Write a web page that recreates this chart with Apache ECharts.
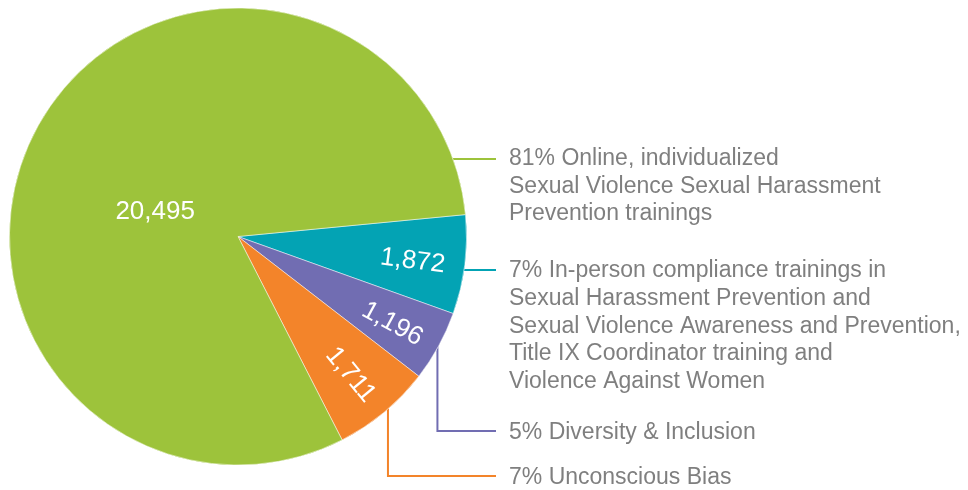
<!DOCTYPE html>
<html>
<head>
<meta charset="utf-8">
<title>Training participation</title>
<script src="https://cdn.jsdelivr.net/npm/echarts@6/dist/echarts.min.js"></script>
<style>
  html, body { margin: 0; padding: 0; background: #fff; }
  #chart { width: 968px; height: 490px; }
</style>
</head>
<body>
<div id="chart"></div>
<script>
// slices run clockwise from the green/teal boundary
const categories = [
  'In-person compliance trainings in\nSexual Harassment Prevention and\nSexual Violence Awareness and Prevention,\nTitle IX Coordinator training and\nViolence Against Women',
  'Diversity & Inclusion',
  'Unconscious Bias',
  'Online, individualized\nSexual Violence Sexual Harassment\nPrevention trainings'
]
const percents = [7, 5, 7, 81]
const participants = [1872, 1196, 1711, 20495]
const colors = ['#03a3b4', '#716db2', '#f3842a', '#9dc33b']

const cx = 238
const cy = 236.5
const radius = 228.5
const startAngle = 5.5

// right-hand labels: y of leader line, y of first text line centre
const lineY = [270, 431, 476, 159]
const textY = [271, 433, 478, 158.5]
const lineEndX = 496
const textX = 509
const lineH = 27.7

const chart = echarts.init(document.getElementById('chart'))

function sliceData(extra) {
  return percents.map((v, i) => Object.assign({
    value: v,
    name: categories[i],
    itemStyle: { color: colors[i] }
  }, extra ? extra(i) : {}))
}

// middle angle of slice i, degrees, counter-clockwise from 3 o'clock
function midAngle(i) {
  const total = percents.reduce((a, b) => a + b, 0)
  let before = 0
  for (let j = 0; j < i; j++) before += percents[j]
  return startAngle - 360 * (before + percents[i] / 2) / total
}

chart.setOption({
  animation: false,
  backgroundColor: '#fff',
  series: [
    {
      // outside descriptions with leader lines
      type: 'pie',
      silent: true,
      z: 2,
      center: [cx, cy],
      radius: radius,
      startAngle: startAngle,
      clockwise: true,
      avoidLabelOverlap: false,
      itemStyle: { borderColor: '#fff', borderWidth: 0.5 },
      label: {
        show: true,
        position: 'outside',
        overflow: 'none',
        color: '#7f7f7f',
        fontFamily: '"Liberation Sans", Arial, sans-serif',
        fontSize: 23,
        lineHeight: lineH,
        formatter: (p) => p.value + '% ' + p.name
      },
      labelLine: { show: true, lineStyle: { width: 2 } },
      labelLayout: function (p) {
        const i = p.dataIndex
        const y = lineY[i]
        let pts
        if (i === 0 || i === 3) {
          const sx = cx + Math.sqrt(radius * radius - (y - cy) * (y - cy)) - 1
          pts = [[sx, y], [(sx + lineEndX) / 2, y], [lineEndX, y]]
        } else {
          const sx = p.labelLinePoints[0][0] + (i === 2 ? 4 : -1)
          pts = [[sx, p.labelLinePoints[0][1] - 4], [sx, y], [lineEndX, y]]
        }
        return {
          x: textX,
          y: textY[i] - lineH / 2,
          align: 'left',
          verticalAlign: 'top',
          labelLinePoints: pts
        }
      },
      data: sliceData((i) => ({ labelLine: { lineStyle: { color: colors[i] } } }))
    },
    {
      // slices with participant counts
      type: 'pie',
      silent: true,
      z: 3,
      center: [cx, cy],
      radius: radius,
      startAngle: startAngle,
      clockwise: true,
      itemStyle: { borderColor: '#fff', borderWidth: 0.5 },
      label: {
        show: true,
        position: 'inside',
        rotate: 'radial',
        color: '#fff',
        fontFamily: '"Liberation Sans", Arial, sans-serif',
        fontSize: 26,
        formatter: (p) => participants[p.dataIndex].toLocaleString('en-US')
      },
      labelLine: { show: false },
      labelLayout: function (p) {
        if (p.dataIndex === 3) return { dx: 20, dy: 32 }
        const a = midAngle(p.dataIndex) * Math.PI / 180
        const r = radius * 0.77
        return {
          x: cx + r * Math.cos(a),
          y: cy - r * Math.sin(a) + 3,
          align: 'center',
          verticalAlign: 'middle'
        }
      },
      data: sliceData((i) => (i === 3 ? { label: { rotate: 0 } } : {}))
    }
  ]
})

window.addEventListener('resize', () => chart.resize())
</script>
</body>
</html>
